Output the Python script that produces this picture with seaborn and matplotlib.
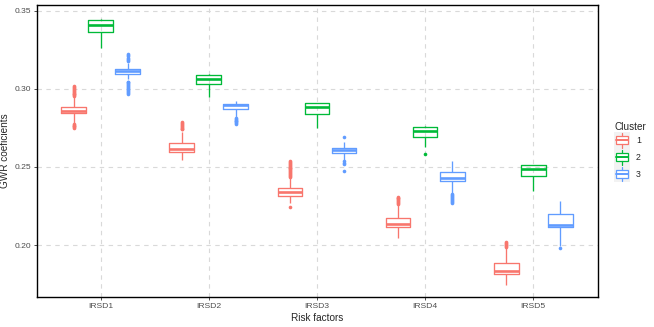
import pandas as pd
import seaborn as sns
import matplotlib.pyplot as plt
from matplotlib.legend_handler import HandlerBase
from matplotlib.patches import Patch, Rectangle
from matplotlib.lines import Line2D

# values (summary of each box)
factors = ["IRSD1", "IRSD2", "IRSD3", "IRSD4", "IRSD5"]
clusters = ["1", "2", "3"]
colors = ["#F8766D", "#00BA38", "#619CFF"]

# one row per cluster, one column per factor
whisker_lo = [[0.2783, 0.2544, 0.2267, 0.2043, 0.1744],
              [0.3259, 0.2951, 0.2747, 0.2625, 0.2348],
              [0.3062, 0.2820, 0.2545, 0.2335, 0.1995]]
q1 = [[0.2843, 0.2595, 0.2316, 0.2113, 0.1814],
      [0.3366, 0.3029, 0.2837, 0.2690, 0.2444],
      [0.3095, 0.2871, 0.2587, 0.2412, 0.2113]]
median = [[0.2858, 0.2615, 0.2337, 0.2133, 0.1835],
          [0.3410, 0.3063, 0.2882, 0.2730, 0.2487],
          [0.3112, 0.2899, 0.2606, 0.2432, 0.2130]]
q3 = [[0.2885, 0.2651, 0.2363, 0.2171, 0.1883],
      [0.3440, 0.3088, 0.2907, 0.2757, 0.2510],
      [0.3125, 0.2906, 0.2619, 0.2467, 0.2197]]
whisker_hi = [[0.2945, 0.2725, 0.2427, 0.2255, 0.1985],
              [0.3450, 0.3094, 0.2911, 0.2760, 0.2512],
              [0.3166, 0.2920, 0.2661, 0.2540, 0.2284]]

outliers_c1 = [
    [0.2952, 0.2958, 0.2964, 0.2970, 0.2976, 0.2982, 0.2988, 0.2994, 0.3000,
     0.3006, 0.3012, 0.3017, 0.2777, 0.2771, 0.2765, 0.2759, 0.2753, 0.2749],
    [0.2740, 0.2746, 0.2752, 0.2758, 0.2764, 0.2770, 0.2776, 0.2782, 0.2789],
    [0.2436, 0.2442, 0.2448, 0.2454, 0.2460, 0.2466, 0.2472, 0.2478, 0.2484,
     0.2490, 0.2496, 0.2502, 0.2508, 0.2514, 0.2520, 0.2526, 0.2532, 0.2538,
     0.2241],
    [0.2262, 0.2268, 0.2274, 0.2280, 0.2286, 0.2292, 0.2298, 0.2304, 0.2309],
    [0.1990, 0.1996, 0.2002, 0.2008, 0.2014, 0.2021],
]
outliers_c2 = [[], [], [], [0.2585], []]
outliers_c3 = [
    [0.3176, 0.3182, 0.3190, 0.3200, 0.3208, 0.3215, 0.3221,
     0.3047, 0.3041, 0.3035, 0.3029, 0.3023, 0.3017, 0.3011, 0.3005, 0.2999,
     0.2993, 0.2987, 0.2981, 0.2975, 0.2968],
    [0.2815, 0.2809, 0.2803, 0.2797, 0.2791, 0.2785, 0.2780, 0.2775],
    [0.2689, 0.2536, 0.2528, 0.2519, 0.2476],
    [0.2325, 0.2319, 0.2313, 0.2307, 0.2301, 0.2295, 0.2289, 0.2283, 0.2277,
     0.2271],
    [0.1978],
]
outliers = [outliers_c1, outliers_c2, outliers_c3]

# long table whose quartiles / whiskers reproduce the read-off summaries
rows = []
for ci, cl in enumerate(clusters):
    for fi, f in enumerate(factors):
        vals = ([whisker_lo[ci][fi]] + [q1[ci][fi]] * 60 + [median[ci][fi]] * 60
                + [q3[ci][fi]] * 60 + [whisker_hi[ci][fi]] + outliers[ci][fi])
        rows += [(f, cl, v) for v in vals]
df = pd.DataFrame(rows, columns=["factor", "cluster", "value"])


class MiniBoxHandler(HandlerBase):
    """legend key drawn like a small ggplot boxplot"""

    def create_artists(self, legend, orig_handle, xdescent, ydescent,
                       width, height, fontsize, trans):
        c = orig_handle.get_edgecolor()
        x0, y0 = -xdescent, -ydescent
        cx = x0 + width / 2
        bg = Rectangle((x0, y0), width, height, fc="#F2F2F2", ec="none",
                       transform=trans)
        box = Rectangle((x0 + 0.12 * width, y0 + 0.28 * height),
                        0.76 * width, 0.44 * height, fc="white", ec=c,
                        lw=0.9, transform=trans)
        med = Line2D([x0 + 0.12 * width, x0 + 0.88 * width],
                     [y0 + 0.5 * height] * 2, color=c, lw=1.4, transform=trans)
        w1 = Line2D([cx, cx], [y0 + 0.06 * height, y0 + 0.28 * height],
                    color=c, lw=0.9, transform=trans)
        w2 = Line2D([cx, cx], [y0 + 0.72 * height, y0 + 0.94 * height],
                    color=c, lw=0.9, transform=trans)
        return [bg, box, med, w1, w2]


sns.set_theme(style="white")
plt.rcParams['font.family'] = ['Liberation Sans', 'DejaVu Sans']

fig, ax = plt.subplots(figsize=(6.54, 3.27), dpi=100)
fig.subplots_adjust(left=0.0566, right=0.9144, bottom=0.0917, top=0.9847)

sns.boxplot(data=df, x="factor", y="value", hue="cluster", palette=colors,
            fill=False, width=0.75, gap=0.08, linewidth=0.95, showcaps=False,
            fliersize=2.6, flierprops={"marker": "o"},
            medianprops={"linewidth": 1.9}, legend=False, ax=ax)

# dashed major grid in both directions
ax.grid(True, axis="both", color="#D9D9D9", linestyle=(0, (4, 4)),
        linewidth=0.8)
ax.set_axisbelow(True)

# filled outlier dots like ggplot
for line in ax.lines:
    if line.get_marker() == "o":
        col = line.get_markeredgecolor()
        line.set_markerfacecolor(col)
        line.set_markeredgewidth(0)

ax.set_xlim(-0.59, 4.60)
ax.set_ylim(0.1667, 0.3537)
ax.set_yticks([0.20, 0.25, 0.30, 0.35])
ax.set_yticklabels(["0.20", "0.25", "0.30", "0.35"])
ax.set_xlabel("Risk factors", fontsize=7.2, labelpad=2)
ax.set_ylabel("GWR coeficients", fontsize=7.2, labelpad=3)
ax.tick_params(axis="both", labelsize=6.1, labelcolor="#4D4D4D",
               color="#333333", length=2.5, width=0.6, pad=2,
               left=True, bottom=True)
for s in ax.spines.values():
    s.set_color("black")
    s.set_linewidth(1.0)

handles = [Patch(facecolor="white", edgecolor=c) for c in colors]
leg = fig.legend(handles, clusters, title="Cluster", loc="center left",
                 bbox_to_anchor=(0.930, 0.535), frameon=False,
                 fontsize=6.3, title_fontsize=7.2, handlelength=1.75,
                 handleheight=2.6, labelspacing=0.0, handletextpad=0.7,
                 borderpad=0.2, alignment="left",
                 handler_map={Patch: MiniBoxHandler()})

fig.savefig("out.png", dpi=100)
